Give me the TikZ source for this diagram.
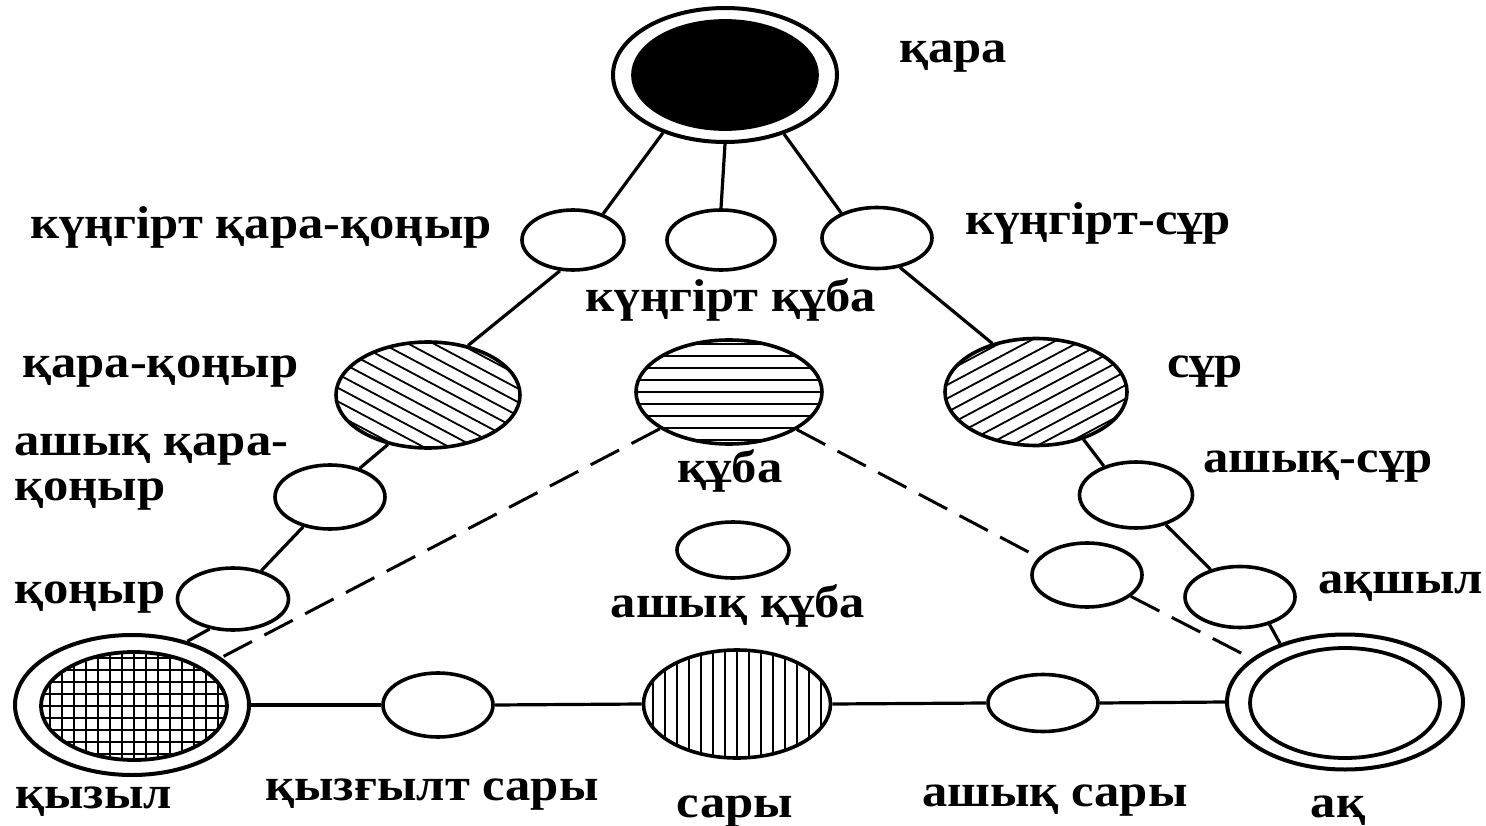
\documentclass[tikz,border=0pt]{standalone}
\usepackage{fontspec}
\setmainfont{Liberation Serif}[FakeStretch=1.1]
\usetikzlibrary{shapes.geometric}
\pgfdeclarelayer{bg}
\pgfsetlayers{bg,main}
% parallel hatch lines at a given angle, clipped to the node outline
\tikzset{
  hatch/.style={path picture={
    \coordinate (hc) at (path picture bounding box.center);
    \foreach \k in {-16,...,16}
      \draw[line width=1.8pt]
        ([shift={({-220*cos(#1)-\k*12*sin(#1)},{-220*sin(#1)+\k*12*cos(#1)})}]hc) --
        ([shift={({220*cos(#1)-\k*12*sin(#1)},{220*sin(#1)+\k*12*cos(#1)})}]hc);
  }},
  grid hatch/.style={path picture={
    \coordinate (hc) at (path picture bounding box.center);
    \foreach \k in {-16,...,16} {
      \draw[line width=1.8pt] ([shift={(-220,\k*12)}]hc) -- ([shift={(220,\k*12)}]hc);
      \draw[line width=1.8pt] ([shift={(\k*12,-220)}]hc) -- ([shift={(\k*12,220)}]hc);
    }
  }}
}
\begin{document}
\begin{tikzpicture}[x=1pt,y=-1pt,
  blob/.style={ellipse, draw, line width=3.6pt, fill=white, inner sep=0pt},
  ring/.style={blob, line width=4pt},
  inner/.style={ellipse, draw, line width=3.8pt, inner sep=0pt},
  link/.style={line width=3.2pt},
  dlink/.style={line width=3pt, dash pattern=on 32pt off 14pt},
  lab/.style={font=\fontsize{46}{48}\selectfont\bfseries, inner sep=0pt}]

\useasboundingbox (0,0) rectangle (1486,826);

% --- black (top) ---
\node[ring, minimum width=224pt, minimum height=134pt] (kara) at (725,75) {};
\node[inner, fill=black, minimum width=184pt, minimum height=108pt] at (kara) {};

% --- upper small circles ---
\node[blob, minimum width=102pt, minimum height=60pt] (kk1) at (573,240) {};
\node[blob, minimum width=108pt, minimum height=60pt] (kk2) at (721,240) {};
\node[blob, minimum width=110pt, minimum height=61pt] (kk3) at (877,238) {};

% --- hatched middle row ---
\node[blob, hatch=28,  minimum width=184pt, minimum height=106pt] (kq) at (428,395) {};
\node[blob, hatch=0,   minimum width=186pt, minimum height=104pt] (kuba) at (729,392) {};
\node[blob, hatch=-28, minimum width=182pt, minimum height=107pt] (sur) at (1036,392) {};

% --- left chain ---
\node[blob, minimum width=110pt, minimum height=64pt] (aq1) at (330,497) {};
\node[blob, minimum width=111pt, minimum height=62pt] (qon) at (233,599) {};

% --- right chain ---
\node[blob, minimum width=113pt, minimum height=66pt] (as1) at (1136,495) {};
\node[blob, minimum width=110pt, minimum height=61pt] (aqsh) at (1240,597) {};
\node[blob, minimum width=110pt, minimum height=64pt] (mid) at (1087,575) {};

% --- centre ---
\node[blob, minimum width=112pt, minimum height=56pt] (akuba) at (733,550) {};

% --- red (bottom left) ---
\node[ring, minimum width=234pt, minimum height=140pt] (qyz) at (132,705) {};
\node[inner, fill=white, grid hatch, minimum width=186pt, minimum height=108pt] (qyzin) at (134,706) {};

% --- bottom row ---
\node[blob, minimum width=110pt, minimum height=64pt] (qs) at (438,705) {};
\node[blob, hatch=90, minimum width=187pt, minimum height=108pt] (sary) at (737,704) {};
\node[blob, minimum width=110pt, minimum height=57pt] (as2) at (1043,703) {};

% --- white (bottom right) ---
\node[ring, minimum width=236pt, minimum height=135pt] (aq) at (1345,702) {};
\node[inner, minimum width=190pt, minimum height=110pt] at (1345,703) {};

% --- connectors ---
\begin{pgfonlayer}{bg}
  \draw[link] (kara.223) -- (kk1.41);
  \draw[link] (kara.270) -- (kk2.90);
  \draw[link] (kara.315) -- (kk3.145);
  \draw[link] (kk1.247) -- (kq.51);
  \draw[link] (kk3.308) -- (sur.132);
  \draw[link] (kq.231) -- (aq1.44);
  \draw[link] (aq1.228) -- (qon.45);
  \draw[link] (qon.232) -- (qyz.49);
  \draw[link] (sur.315) -- (as1.138);
  \draw[link] (as1.315) -- (aqsh.137);
  \draw[link] (aqsh.317) -- (aq.138);
  \draw[link] (qyz.east) -- (qs.west);
  \draw[link] (qs.east) -- (sary.west);
  \draw[link] (sary.east) -- (as2.west);
  \draw[link] (as2.east) -- (aq.west);
  \draw[dlink] (kuba.208) -- (qyz.28);
  \draw[dlink] (kuba.331) -- (mid.160);
  \draw[dlink] (mid.334) -- (aq.155);
\end{pgfonlayer}

% --- labels ---
\node[lab, anchor=base] (t1) at (953,63) {қара};
\node[lab, anchor=base west] (t2) at (30,239) {күңгірт қара-қоңыр};
\node[lab, anchor=base west] (t3) at (965,235) {күңгірт-сұр};
\node[lab, anchor=base] (t4) at (731,312) {күңгірт құба};
\node[lab, anchor=base west] (t5) at (22,377) {қара-қоңыр};
\node[lab, anchor=base] (t6) at (1205,377) {сұр};
\node[lab, anchor=base west] (t7a) at (14,455) {ашық қара-};
\node[lab, anchor=base west] (t7b) at (14,500) {қоңыр};
\node[lab, anchor=base] (t8) at (730,482) {құба};
\node[lab, anchor=base west] (t9) at (1203,472) {ашық-сұр};
\node[lab, anchor=base west] (t10) at (14,603) {қоңыр};
\node[lab, anchor=base] (t11) at (738,617) {ашық құба};
\node[lab, anchor=base west] (t12) at (1318,593) {ақшыл};
\node[lab, anchor=base west] (t13) at (15,808) {қызыл};
\node[lab, anchor=base west] (t14) at (265,800) {қызғылт сары};
\node[lab, anchor=base] (t15) at (735,817) {сары};
\node[lab, anchor=base west] (t16) at (922,806) {ашық сары};
\node[lab, anchor=base] (t17) at (1338,817) {ақ};
\end{tikzpicture}
\end{document}
